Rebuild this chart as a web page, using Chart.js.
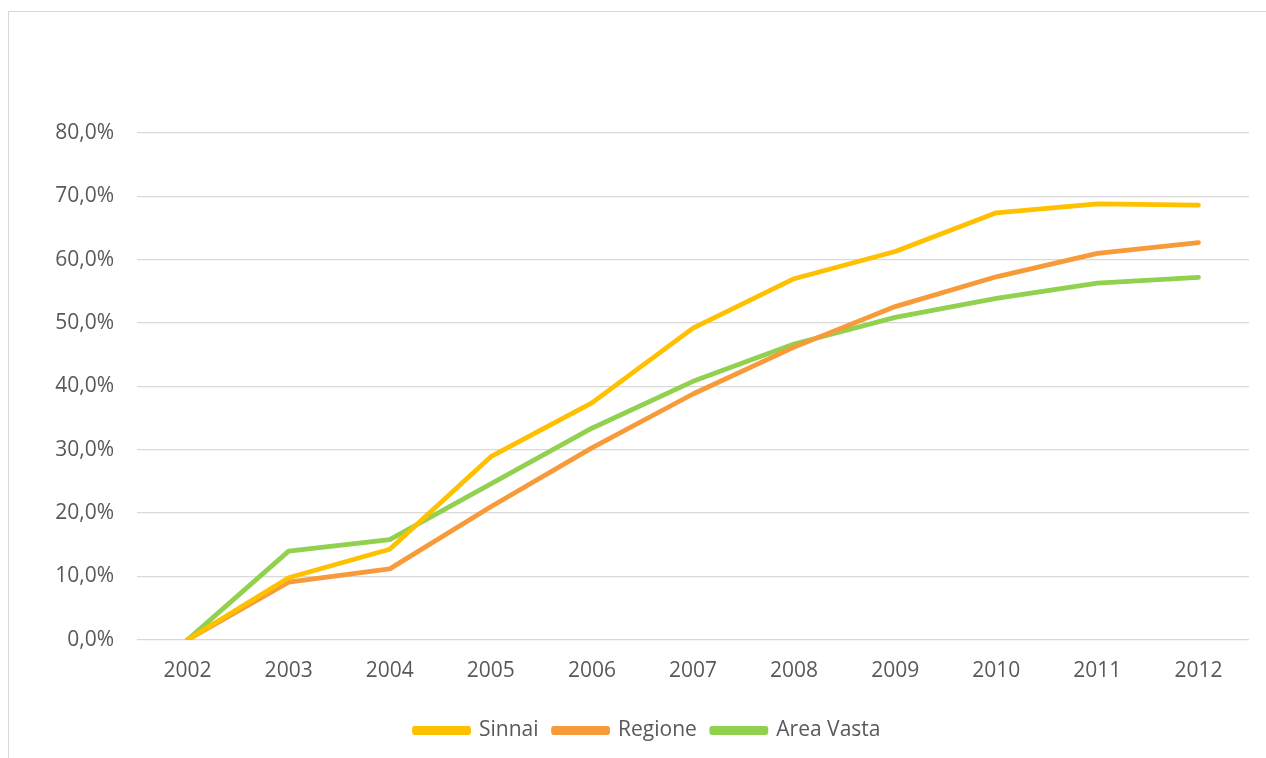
<!DOCTYPE html>
<html>
<head>
<meta charset="utf-8">
<script src="https://cdn.jsdelivr.net/npm/chart.js@4/dist/chart.umd.min.js"></script>
<style>
  html, body { margin: 0; padding: 0; background: #ffffff; overflow: hidden; }
  #wrap { position: relative; width: 1266px; height: 758px; }
  #frame { position: absolute; left: 8px; top: 11px; width: 1400px; height: 900px; border: 1px solid #d9d9d9; box-sizing: border-box; }
  #c { position: absolute; left: 0; top: 0; }
</style>
</head>
<body>
<div id="wrap">
  <div id="frame"></div>
  <canvas id="c" width="1266" height="758"></canvas>
</div>
<script>
// Anni
const years = ['2002', '2003', '2004', '2005', '2006', '2007', '2008', '2009', '2010', '2011', '2012'];

// Variazione percentuale cumulata
const sinnai    = [0, 9.8, 14.3, 28.9, 37.4, 49.2, 57.0, 61.3, 67.4, 68.8, 68.6];
const regione   = [0, 9.1, 11.2, 21.0, 30.3, 38.8, 46.2, 52.6, 57.3, 61.0, 62.7];
const areaVasta = [0, 14.0, 15.8, 24.6, 33.4, 40.8, 46.7, 50.9, 53.9, 56.3, 57.2];

const seriesNames = ['Sinnai', 'Regione', 'Area Vasta'];
const seriesColors = ['#FFC000', '#F79A3A', '#92D050'];

const FONT = '"Open Sans", "Liberation Sans", sans-serif';
const TEXT = '#595959';
const FSIZE = 21;

function fmt(v) {
  return v.toFixed(1).replace('.', ',') + '%';
}

// shift the legend row sideways so the group sits where it should
const legendShift = {
  id: 'legendShift',
  afterLayout(chart) {
    const lg = chart.legend;
    if (lg) { lg.left += 18; lg.right += 18; }
  }
};

const data = {
  labels: years,
  datasets: [sinnai, regione, areaVasta].map((vals, i) => ({
    label: seriesNames[i],
    data: vals,
    borderColor: seriesColors[i],
    backgroundColor: seriesColors[i],
    borderWidth: 4.8,
    pointRadius: 0,
    pointHoverRadius: 0,
    tension: 0,
    borderCapStyle: 'round',
    borderJoinStyle: 'round',
    fill: false
  }))
};

new Chart(document.getElementById('c'), {
  type: 'line',
  data: data,
  plugins: [legendShift],
  options: {
    responsive: false,
    animation: false,
    devicePixelRatio: 1,
    layout: { padding: { top: 133, left: 10, right: 17, bottom: 7 } },
    plugins: {
      tooltip: { enabled: false },
      title: { display: false },
      legend: {
        display: true,
        position: 'bottom',
        labels: {
          color: TEXT,
          font: { family: FONT, size: FSIZE },
          boxWidth: 54,
          boxHeight: 4,
          padding: 15
        }
      }
    },
    scales: {
      x: {
        offset: true,
        afterFit: (s) => { s.height += 2; },
        grid: { display: false, drawTicks: false },
        border: { display: false },
        ticks: { color: TEXT, font: { family: FONT, size: FSIZE }, padding: 19, maxRotation: 0 }
      },
      y: {
        min: 0,
        max: 80,
        afterFit: (s) => { s.width = 127; },
        grid: { color: '#d9d9d9', lineWidth: 1.3, drawTicks: false },
        border: { display: false },
        ticks: {
          stepSize: 10,
          color: TEXT,
          font: { family: FONT, size: FSIZE },
          padding: 23,
          callback: (v) => fmt(v)
        }
      }
    }
  }
});
</script>
</body>
</html>
